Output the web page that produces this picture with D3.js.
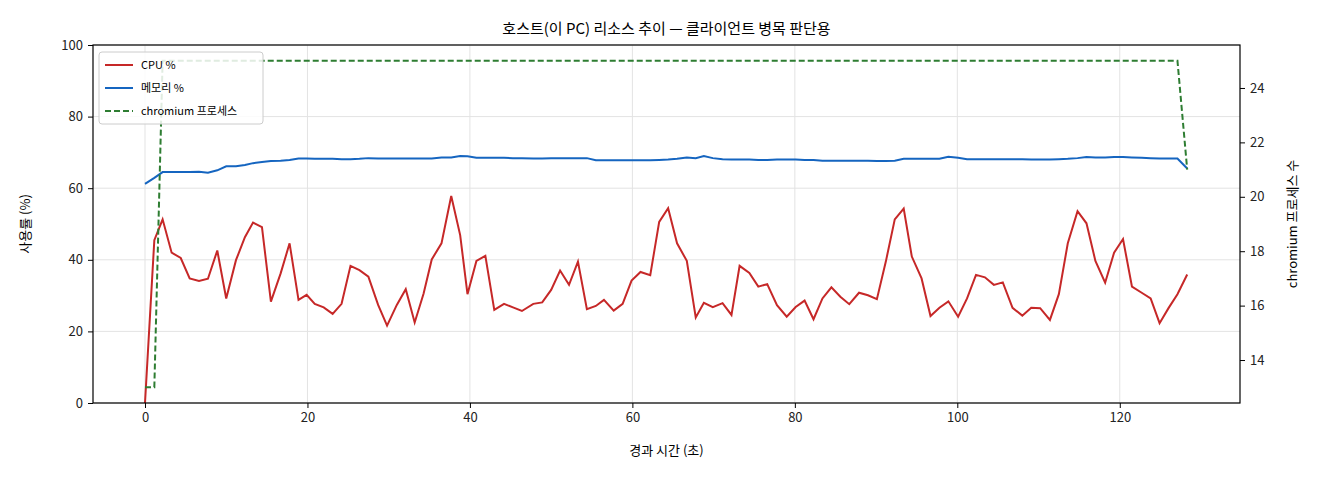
<!DOCTYPE html><html><head><meta charset="utf-8"><script src="https://cdn.jsdelivr.net/npm/d3@7"></script>
<style>body{margin:0;background:#fff}text{font-family:"Noto Sans CJK KR","Noto Sans",sans-serif}</style></head><body><svg id="c" width="1320" height="480"></svg><script>
const times=[0,1.15,2.17,3.28,4.4,5.5,6.65,7.75,8.9,10.0,11.2,12.3,13.3,14.4,15.5,16.7,17.8,18.9,19.9,20.9,22.0,23.1,24.2,25.3,26.4,27.5,28.7,29.8,31.0,32.1,33.2,34.3,35.3,36.5,37.7,38.8,39.7,40.8,41.9,43.0,44.2,45.3,46.4,47.8,48.9,50.0,51.1,52.2,53.3,54.4,55.5,56.5,57.7,58.8,59.9,61.0,62.2,63.3,64.4,65.5,66.7,67.8,68.8,69.9,71.1,72.2,73.2,74.4,75.5,76.6,77.8,79.0,80.1,81.2,82.3,83.4,84.5,85.6,86.7,87.9,89.0,90.1,91.2,92.3,93.4,94.4,95.6,96.7,97.8,98.9,100.1,101.2,102.3,103.4,104.5,105.6,106.8,108.0,109.1,110.2,111.4,112.5,113.6,114.8,115.9,117.0,118.2,119.3,120.4,121.5,122.7,123.8,124.9,126.0,127.1,128.3];
const cpu=[0,45.5,51.3,42,40.5,34.8,34.1,34.7,42.6,29.2,39.9,46.3,50.4,49.1,28.3,36.2,44.6,28.8,30.2,27.7,26.7,24.9,27.7,38.3,37.1,35.3,27.4,21.6,27.4,31.8,22.5,30.6,40.1,44.6,57.8,46.9,30.4,39.7,41.1,26.0,27.7,26.7,25.7,27.7,28.1,31.6,37.0,33.0,39.5,26.2,27.1,28.8,25.8,27.7,34.2,36.6,35.7,50.6,54.4,44.6,39.7,23.9,28.0,26.8,27.9,24.6,38.3,36.3,32.5,33.2,27.3,24.1,26.8,28.6,23.4,29.2,32.3,29.7,27.6,30.8,30.1,29.0,39.5,51.3,54.3,40.9,34.8,24.3,26.6,28.4,24.1,29.2,35.8,35.1,33.0,33.7,26.6,24.4,26.6,26.5,23.2,30.4,44.6,53.6,50.2,39.7,33.6,42.0,45.8,32.5,30.8,29.2,22.3,26.5,30.4,35.9];
const mem=[61.2,62.9,64.5,64.5,64.5,64.5,64.6,64.3,65.0,66.1,66.1,66.5,67.0,67.3,67.6,67.7,67.9,68.3,68.3,68.2,68.2,68.2,68.1,68.1,68.2,68.4,68.3,68.3,68.3,68.3,68.3,68.3,68.3,68.6,68.6,69.0,68.9,68.5,68.5,68.5,68.5,68.4,68.4,68.3,68.3,68.4,68.4,68.4,68.4,68.4,67.8,67.8,67.8,67.8,67.8,67.8,67.8,67.9,68.0,68.2,68.6,68.4,69.0,68.4,68.1,68.0,68.0,68.0,67.9,67.9,68.0,68.0,68.0,67.9,67.9,67.7,67.7,67.7,67.7,67.7,67.7,67.6,67.6,67.7,68.2,68.2,68.2,68.2,68.2,68.8,68.5,68.1,68.1,68.1,68.1,68.1,68.1,68.1,68.0,68.0,68.0,68.1,68.2,68.4,68.7,68.6,68.6,68.7,68.7,68.6,68.5,68.4,68.3,68.3,68.3,65.5];
const procs=times.map((t,i)=>i<2?13:(i===times.length-1?21:25));
const xTicks=[0,20,40,60,80,100,120],yTicks=[0,20,40,60,80,100],y2Ticks=[14,16,18,20,22,24];
const svg=d3.select("#c"),L=93,R=1240,T=45,B=403;
const x=d3.scaleLinear().domain([-6.4,134.8]).range([L,R]);
const y=d3.scaleLinear().domain([0,100]).range([B,T]);
const y2=d3.scaleLinear().domain([12.42,25.58]).range([B,T]);
const g=svg.append("g");
xTicks.forEach(t=>g.append("line").attr("x1",x(t)).attr("x2",x(t)).attr("y1",T).attr("y2",B).attr("stroke","#e3e3e3"));
yTicks.forEach(t=>g.append("line").attr("x1",L).attr("x2",R).attr("y1",y(t)).attr("y2",y(t)).attr("stroke","#e3e3e3"));
const ln=(yy,arr)=>d3.line().x((d,i)=>x(times[i])).y(d=>yy(d))(arr);
svg.append("path").attr("d",ln(y,cpu)).attr("fill","none").attr("stroke","#c62828").attr("stroke-width",2);
svg.append("path").attr("d",ln(y,mem)).attr("fill","none").attr("stroke","#1565c0").attr("stroke-width",2);
svg.append("path").attr("d",ln(y2,procs)).attr("fill","none").attr("stroke","#2e7d32").attr("stroke-width",2).attr("stroke-dasharray","6,3");
svg.append("rect").attr("x",L).attr("y",T).attr("width",R-L).attr("height",B-T).attr("fill","none").attr("stroke","#000").attr("stroke-width",1.2);
const fa=a=>a.call(s=>s.selectAll("text").attr("font-size",13).attr("fill","#222")).call(s=>s.select(".domain").remove());
svg.append("g").attr("transform",`translate(0,${B})`).call(d3.axisBottom(x).tickValues(xTicks).tickSize(5).tickPadding(5)).call(fa);
svg.append("g").attr("transform",`translate(${L},0)`).call(d3.axisLeft(y).tickValues(yTicks).tickSize(5).tickPadding(5)).call(fa);
svg.append("g").attr("transform",`translate(${R},0)`).call(d3.axisRight(y2).tickValues(y2Ticks).tickSize(5).tickPadding(5)).call(fa);
svg.append("text").attr("x",(L+R)/2).attr("y",34).attr("text-anchor","middle").attr("font-size",15).text("호스트(이 PC) 리소스 추이 — 클라이언트 병목 판단용");
svg.append("text").attr("x",(L+R)/2).attr("y",455).attr("text-anchor","middle").attr("font-size",13).text("경과 시간 (초)");
svg.append("text").attr("transform",`translate(30,${(T+B)/2}) rotate(-90)`).attr("text-anchor","middle").attr("font-size",13).text("사용률 (%)");
svg.append("text").attr("transform",`translate(1297,${(T+B)/2}) rotate(-90)`).attr("text-anchor","middle").attr("font-size",13).text("chromium 프로세스 수");
const lg=svg.append("g").attr("transform","translate(99,52)");
lg.append("rect").attr("width",164).attr("height",72).attr("rx",3).attr("fill","#fff").attr("fill-opacity",0.85).attr("stroke","#ccc");
[["CPU %","#c62828",null],["메모리 %","#1565c0",null],["chromium 프로세스","#2e7d32","6,3"]].forEach((d,i)=>{
 const yy=13+i*23;
 lg.append("line").attr("x1",6).attr("x2",34).attr("y1",yy).attr("y2",yy).attr("stroke",d[1]).attr("stroke-width",2).attr("stroke-dasharray",d[2]);
 lg.append("text").attr("x",42).attr("y",yy+4).attr("font-size",11).text(d[0]);
});
</script></body></html>
